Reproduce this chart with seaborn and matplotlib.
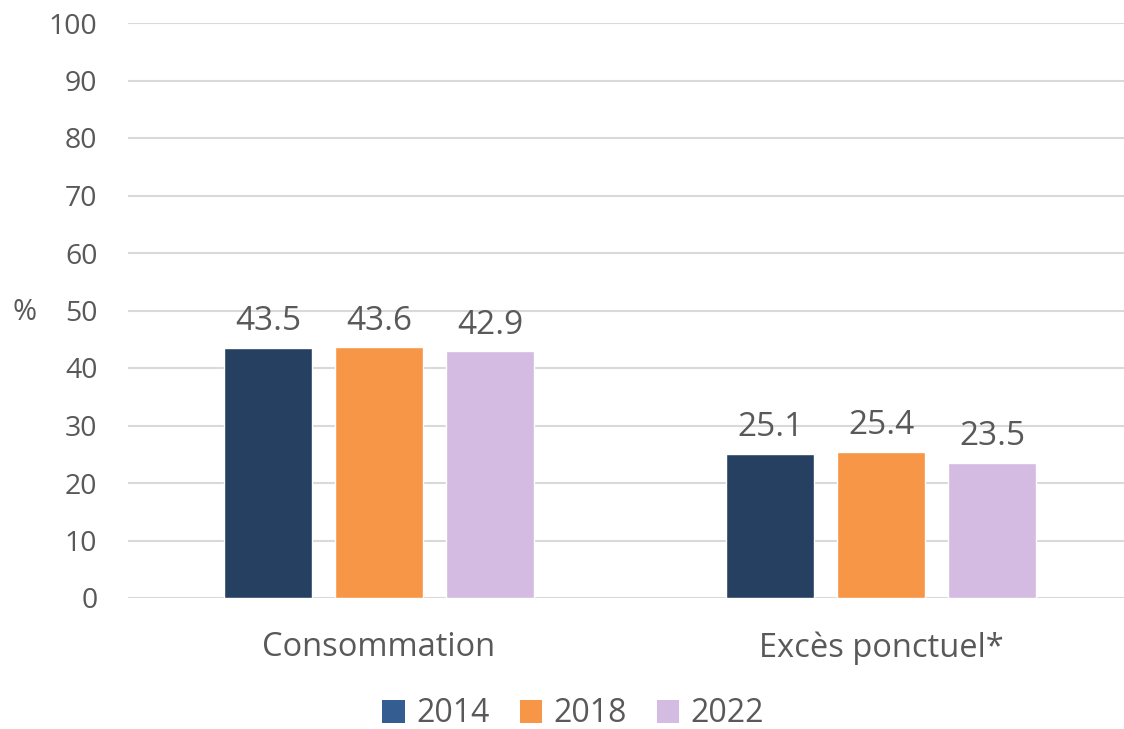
import matplotlib
matplotlib.use("Agg")
import matplotlib.pyplot as plt
import seaborn as sns
import pandas as pd
from matplotlib.patches import Patch

# data
categories = ["Consommation", "Excès ponctuel*"]
years = ["2014", "2018", "2022"]
values_2014 = [43.5, 25.1]
values_2018 = [43.6, 25.4]
values_2022 = [42.9, 23.5]

bar_colors = ["#264061", "#F79646", "#D4BBE1"]
legend_colors = ["#345E91", "#F79646", "#D4BBE1"]
text_color = "#595959"
grid_color = "#D9D9D9"

rows = []
for year, vals in zip(years, [values_2014, values_2018, values_2022]):
    for cat, v in zip(categories, vals):
        rows.append({"cat": cat, "year": year, "value": v})
df = pd.DataFrame(rows)

sns.set_style("white")
plt.rcParams["font.family"] = ["Open Sans", "DejaVu Sans"]

fig = plt.figure(figsize=(11.24, 7.29), dpi=100)
ax = fig.add_axes([128 / 1124, 131 / 729, 1004 / 1124, 575 / 729])

sns.barplot(data=df, x="cat", y="value", hue="year", palette=bar_colors,
            width=0.663, gap=0.207, ax=ax, legend=False, saturation=1)

for container in ax.containers:
    ax.bar_label(container, fmt="%.1f", padding=7, fontsize=24, color=text_color)

ax.set_ylim(0, 100)
ax.set_xlim(-0.5, 1.5)
ax.set_yticks(range(0, 101, 10))
ax.yaxis.grid(True, color=grid_color, linewidth=1.5)
ax.set_axisbelow(True)
for s in ax.spines.values():
    s.set_visible(False)
ax.tick_params(axis="y", length=0, labelsize=20.5, labelcolor=text_color, pad=22)
ax.tick_params(axis="x", length=0, labelsize=23.5, labelcolor=text_color, pad=24)
ax.set_xlabel("")
ax.set_ylabel("")

fig.text(25 / 1124, 1 - 313 / 729, "%", fontsize=21, color=text_color,
         ha="center", va="center")

handles = [Patch(facecolor=c, edgecolor="none") for c in legend_colors]
fig.legend(handles, years, loc="center", bbox_to_anchor=(0.51, 1 - 714 / 729),
           ncol=3, frameon=False, fontsize=23, labelcolor=text_color,
           handlelength=0.7, handleheight=0.7, handletextpad=0.35, columnspacing=0.95)

fig.savefig("out.png", dpi=100)
